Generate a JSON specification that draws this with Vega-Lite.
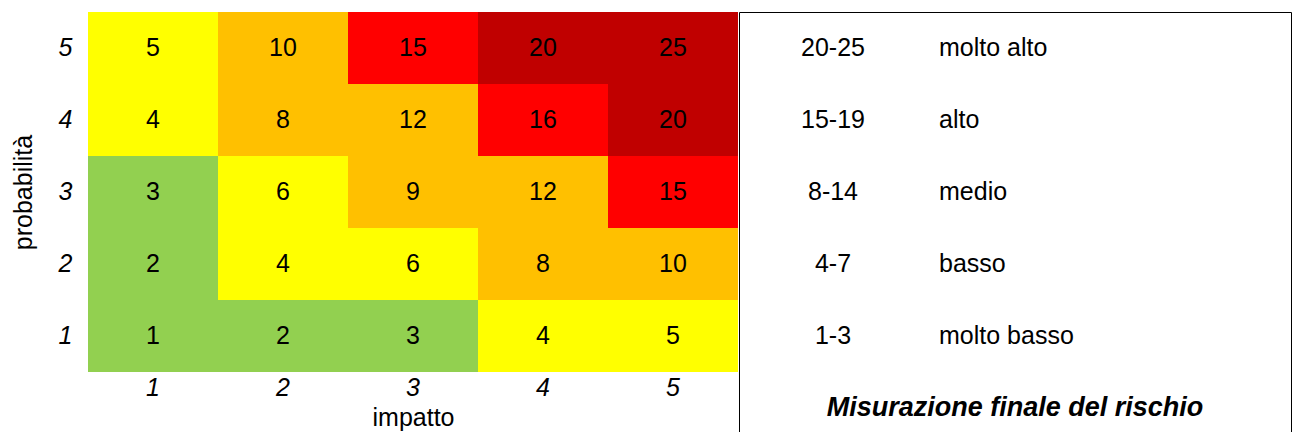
{
  "$schema": "https://vega.github.io/schema/vega-lite/v6.json",
  "padding": {"left": 11, "top": 11, "right": 1, "bottom": 0},
  "background": "white",
  "config": {
    "font": "Liberation Sans",
    "concat": {"spacing": 0},
    "axis": {
      "domain": false,
      "ticks": false,
      "grid": false,
      "labelFontSize": 25,
      "labelFontStyle": "italic",
      "labelColor": "black",
      "labelAngle": 0,
      "titleFontSize": 25,
      "titleFontWeight": "normal",
      "titleColor": "black"
    },
    "axisX": {"labelPadding": 3, "titlePadding": 5},
    "axisY": {"labelPadding": 16, "titlePadding": 22}
  },
  "datasets": {
    "matrice": [
      {"impatto": 1, "probabilita": 5, "rischio": 5, "livello": "basso"},
      {"impatto": 2, "probabilita": 5, "rischio": 10, "livello": "medio"},
      {"impatto": 3, "probabilita": 5, "rischio": 15, "livello": "alto"},
      {"impatto": 4, "probabilita": 5, "rischio": 20, "livello": "molto alto"},
      {"impatto": 5, "probabilita": 5, "rischio": 25, "livello": "molto alto"},
      {"impatto": 1, "probabilita": 4, "rischio": 4, "livello": "basso"},
      {"impatto": 2, "probabilita": 4, "rischio": 8, "livello": "medio"},
      {"impatto": 3, "probabilita": 4, "rischio": 12, "livello": "medio"},
      {"impatto": 4, "probabilita": 4, "rischio": 16, "livello": "alto"},
      {"impatto": 5, "probabilita": 4, "rischio": 20, "livello": "molto alto"},
      {"impatto": 1, "probabilita": 3, "rischio": 3, "livello": "molto basso"},
      {"impatto": 2, "probabilita": 3, "rischio": 6, "livello": "basso"},
      {"impatto": 3, "probabilita": 3, "rischio": 9, "livello": "medio"},
      {"impatto": 4, "probabilita": 3, "rischio": 12, "livello": "medio"},
      {"impatto": 5, "probabilita": 3, "rischio": 15, "livello": "alto"},
      {"impatto": 1, "probabilita": 2, "rischio": 2, "livello": "molto basso"},
      {"impatto": 2, "probabilita": 2, "rischio": 4, "livello": "basso"},
      {"impatto": 3, "probabilita": 2, "rischio": 6, "livello": "basso"},
      {"impatto": 4, "probabilita": 2, "rischio": 8, "livello": "medio"},
      {"impatto": 5, "probabilita": 2, "rischio": 10, "livello": "medio"},
      {"impatto": 1, "probabilita": 1, "rischio": 1, "livello": "molto basso"},
      {"impatto": 2, "probabilita": 1, "rischio": 2, "livello": "molto basso"},
      {"impatto": 3, "probabilita": 1, "rischio": 3, "livello": "molto basso"},
      {"impatto": 4, "probabilita": 1, "rischio": 4, "livello": "basso"},
      {"impatto": 5, "probabilita": 1, "rischio": 5, "livello": "basso"}
    ],
    "scala": [
      {"intervallo": "20-25", "livello": "molto alto", "ordine": 5},
      {"intervallo": "15-19", "livello": "alto", "ordine": 4},
      {"intervallo": "8-14", "livello": "medio", "ordine": 3},
      {"intervallo": "4-7", "livello": "basso", "ordine": 2},
      {"intervallo": "1-3", "livello": "molto basso", "ordine": 1}
    ]
  },
  "hconcat": [
    {
      "width": 650,
      "height": 360,
      "view": {"stroke": null},
      "data": {"name": "matrice"},
      "encoding": {
        "x": {
          "field": "impatto",
          "type": "ordinal",
          "title": "impatto",
          "scale": {"paddingInner": 0, "paddingOuter": 0}
        },
        "y": {
          "field": "probabilita",
          "type": "ordinal",
          "sort": "descending",
          "title": "probabilità",
          "scale": {"paddingInner": 0, "paddingOuter": 0}
        }
      },
      "layer": [
        {
          "mark": {"type": "rect"},
          "encoding": {
            "color": {
              "field": "livello",
              "type": "nominal",
              "scale": {
                "domain": ["molto basso", "basso", "medio", "alto", "molto alto"],
                "range": ["#92D050", "#FFFF00", "#FFC000", "#FF0000", "#C00000"]
              },
              "legend": null
            }
          }
        },
        {
          "mark": {"type": "text", "fontSize": 25, "color": "black"},
          "encoding": {"text": {"field": "rischio", "type": "quantitative"}}
        }
      ]
    },
    {
      "width": 552,
      "height": 432,
      "view": {"stroke": "black", "strokeWidth": 1, "fill": "white"},
      "data": {"name": "scala"},
      "encoding": {
        "y": {
          "field": "ordine",
          "type": "quantitative",
          "scale": {"domain": [-0.5, 5.5], "nice": false, "zero": false},
          "axis": null
        }
      },
      "layer": [
        {
          "mark": {"type": "text", "fontSize": 25, "align": "center", "color": "black"},
          "encoding": {
            "x": {
              "datum": "intervallo",
              "type": "nominal",
              "scale": {"type": "point", "domain": ["intervallo", "livello"], "range": [94, 200], "padding": 0},
              "axis": null
            },
            "text": {"field": "intervallo", "type": "nominal"}
          }
        },
        {
          "mark": {"type": "text", "fontSize": 25, "align": "left", "color": "black"},
          "encoding": {
            "x": {"datum": "livello", "type": "nominal", "axis": null},
            "text": {"field": "livello", "type": "nominal"}
          }
        },
        {
          "data": {"values": [{"titolo": "Misurazione finale del rischio", "ordine": 0}]},
          "mark": {"type": "text", "fontSize": 27, "fontWeight": "bold", "fontStyle": "italic", "color": "black"},
          "encoding": {"text": {"field": "titolo", "type": "nominal"}}
        }
      ]
    }
  ]
}
